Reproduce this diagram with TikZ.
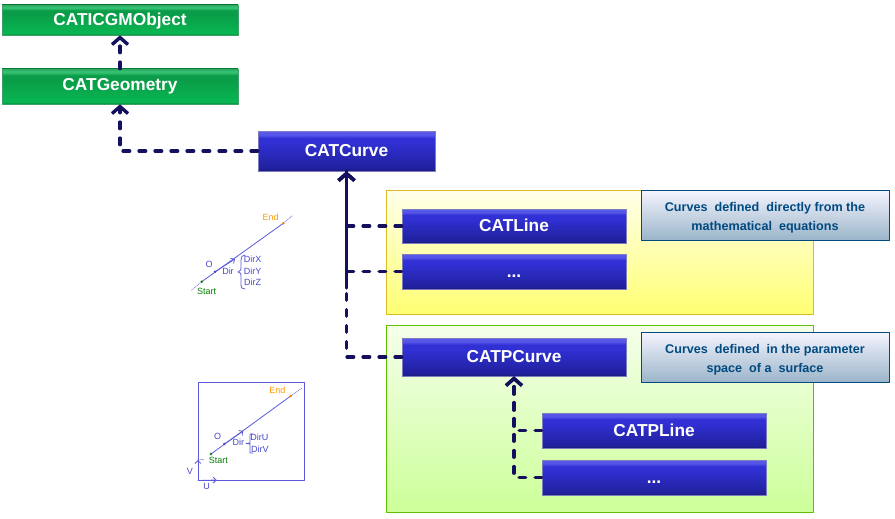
\documentclass[tikz,border=0pt]{standalone}
\usepackage{fontspec}
\setmainfont{Liberation Sans}
\usetikzlibrary{arrows.meta,shadows}
\definecolor{navyline}{HTML}{14105E}
\definecolor{sketchblue}{HTML}{5A5AD8}
\definecolor{sketchtext}{HTML}{4646C8}
\definecolor{noteblue}{HTML}{004A80}
\definecolor{bluetop}{HTML}{6666F0}
\definecolor{blueglow}{HTML}{5555E8}
\definecolor{bluemid}{HTML}{3030D4}
\definecolor{bluelow}{HTML}{20209C}
\definecolor{blueedge}{HTML}{1A1A74}
\definecolor{greentop}{HTML}{0C9A4A}
\definecolor{greenglow}{HTML}{34C070}
\definecolor{greenmid}{HTML}{0A9C48}
\definecolor{greenlow}{HTML}{08B652}
\definecolor{greenedge}{HTML}{0A8A42}
\pgfdeclareverticalshading{bluebevel}{100bp}{color(0bp)=(blueedge);color(25bp)=(blueedge);color(28bp)=(bluelow);color(60bp)=(bluemid);color(66bp)=(bluemid);color(70bp)=(blueglow);color(73bp)=(blueglow);color(75bp)=(bluetop);color(100bp)=(bluetop)}
\pgfdeclareverticalshading{greenbevel}{100bp}{color(0bp)=(greenedge);color(25bp)=(greenedge);color(28bp)=(greenlow);color(60bp)=(greenmid);color(66bp)=(greenmid);color(70bp)=(greenglow);color(73bp)=(greenglow);color(75bp)=(greentop);color(100bp)=(greentop)}
\newcommand{\notestrut}{\rule{0pt}{14pt}}
\tikzset{
	classbar/.style={minimum width=#1, inner sep=0pt, text=white, text height=12pt, text depth=0pt, font=\bfseries\fontsize{17.3}{17}\selectfont, drop shadow={shadow xshift=1pt, shadow yshift=-1pt, opacity=.35}},
	bluebar/.style={classbar=224pt, shading=bluebevel, draw=blue!35!white!75!black, line width=.6pt},
	greenbar/.style={classbar=236pt, shading=greenbevel, draw=greenedge!80!white, line width=.6pt},
	notebox/.style={minimum width=248pt, minimum height=50pt, inner sep=0pt, align=center, text=noteblue, font=\bfseries\fontsize{12.6}{19}\selectfont, top color=blue!4!white, bottom color=blue!45!cyan!30!gray!60!white, draw=noteblue, line width=.8pt, drop shadow={shadow xshift=1pt, shadow yshift=-1pt, opacity=.35}},
	inherit/.style={draw=navyline, line width=3.4pt, dash pattern=on 6.6pt off 9.4pt, ->},
	trunk/.style={draw=navyline, line width=3.4pt},
	panel/.style={line width=.8pt, drop shadow={shadow xshift=1pt, shadow yshift=-1pt, opacity=.3}},
	sketchlabel/.style={font=\fontsize{9}{9}\selectfont, inner sep=0pt, text=sketchtext},
	sketchline/.style={draw=sketchblue, line width=.8pt},
	sketchdots/.style={draw=sketchblue!70!white, line width=.8pt, densely dotted}
}
\begin{document}
\begin{tikzpicture}[x=1pt, y=-1pt, line join=round, line cap=round, >={Straight Barb[length=7pt,width=16pt]}]
	\useasboundingbox (0,0) rectangle (895,519);
	% panels
	\node[panel, minimum width=427pt, minimum height=124pt, top color=yellow!8!white, bottom color=yellow!55!white, draw=yellow!70!orange!85!black] (yellowpanel) at (599.5,252) {};
	\node[panel, minimum width=427pt, minimum height=187pt, top color=green!50!yellow!8!white, bottom color=green!50!yellow!40!white, draw=green!50!yellow!75!black] (greenpanel) at (599.5,418.5) {};
	% classes
	\node[greenbar, minimum height=30pt] (cgmobject) at (120,20) {CATICGMObject};
	\node[greenbar, minimum height=35pt, text depth=4pt] (geometry) at (120,86.5) {CATGeometry};
	\node[bluebar, minimum width=177pt, minimum height=40pt] (curve) at (346.5,151) {CATCurve};
	\node[bluebar, minimum height=34pt, text depth=2pt] (line) at (514,226) {CATLine};
	\node[bluebar, minimum height=35pt] (linedots) at (514,271.5) {...};
	\node[bluebar, minimum height=38pt, text depth=2pt] (pcurve) at (514,357) {CATPCurve};
	\node[bluebar, minimum height=35pt] (pline) at (654,430.5) {CATPLine};
	\node[bluebar, minimum height=35pt] (plinedots) at (654,477.5) {...};
	% notes
	\node[notebox] (linenote) at (765,215) {\notestrut Curves\ \ defined\ \ directly from the\\mathematical\ \ equations};
	\node[notebox] (pcurvenote) at (765,357) {\notestrut Curves\ \ defined\ \ in the parameter\\space\ \ of a\ \ surface};
	% links
	\coordinate (trunkend) at (curve.south |- 0,288);
	\draw[inherit] (geometry.north) -- (cgmobject.south);
	\draw[inherit] (curve.west) -| (geometry.south);
	\draw[trunk] (trunkend) -- (curve.south);
	\draw[inherit] (line.west) -| (curve.south);
	\draw[inherit] (linedots.west) -| (curve.south);
	\draw[inherit] (pcurve.west) -| (curve.south);
	\draw[inherit] (pline.west) -| (pcurve.south);
	\draw[inherit] (plinedots.west) -| (pcurve.south);
	% sketch of the line
	\coordinate (sstart) at (201.7,281.7);
	\coordinate (send) at (283.3,223.3);
	\coordinate (sorigin) at (215,271.7);
	\coordinate (sdir) at (235,259);
	\draw[sketchline] (sstart) -- (send);
	\draw[sketchdots] (sstart) -- (191.7,290);
	\draw[sketchdots] (send) -- (292,216);
	\draw[sketchline, -{Straight Barb[length=3pt,width=6pt]}] (sorigin) -- (sdir);
	\fill[green!50!black] (sstart) circle (1.4pt);
	\fill[orange] (send) circle (1.4pt);
	\fill[sketchtext] (sorigin) circle (1.4pt);
	\node[sketchlabel, text=green!50!black] (sstartlabel) at (206.7,291.7) {Start};
	\node[sketchlabel, text=orange!80!yellow] (sendlabel) at (270.7,217.3) {End};
	\node[sketchlabel] (soriginlabel) at (209,264) {O};
	\node[sketchlabel] (sdirlabel) at (228,271.7) {Dir};
	\node[sketchlabel] (sdirx) at (252.7,259.3) {DirX};
	\node[sketchlabel] (sdiry) at (252.7,271) {DirY};
	\node[sketchlabel] (sdirz) at (252.7,282.7) {DirZ};
	\draw[sketchline] (245,255) .. controls (242,255) and (241,257) .. (241,260) -- (241,268) .. controls (241,270) .. (238,272) .. controls (241,273) .. (241,276) -- (241,284) .. controls (241,288) and (242,289) .. (245,289);
	% sketch of the parameter space
	\node[draw=sketchblue, line width=.9pt, minimum width=105.7pt, minimum height=97.7pt, inner sep=0pt] (space) at (251.2,431.2) {};
	\coordinate (pstart) at (211,454);
	\coordinate (pend) at (290.7,396);
	\coordinate (porigin) at (224.3,444);
	\coordinate (pdir) at (243.3,431);
	\coordinate (vtip) at (space.south west |- 0,460);
	\coordinate (utip) at (216.7,480);
	\draw[sketchline] (pstart) -- (pend);
	\draw[sketchdots] (pend) -- (302,388);
	\draw[sketchdots] (vtip) -- (203.5,459.5);
	\draw[sketchline, -{Straight Barb[length=3pt,width=6pt]}] (porigin) -- (pdir);
	\draw[sketchline, -{Straight Barb[length=3pt,width=6pt]}] (space.south west) -- (vtip);
	\draw[sketchline, -{Straight Barb[length=3pt,width=6pt]}] (space.south west) -- (utip);
	\fill[green!50!black] (pstart) circle (1.4pt);
	\fill[orange] (pend) circle (1.4pt);
	\fill[sketchtext] (porigin) circle (1.4pt);
	\node[sketchlabel, text=green!50!black] (pstartlabel) at (218.3,460.7) {Start};
	\node[sketchlabel, text=orange!80!yellow] (pendlabel) at (277.3,390) {End};
	\node[sketchlabel] (poriginlabel) at (217.7,436.7) {O};
	\node[sketchlabel] (pdirlabel) at (238.3,442.7) {Dir};
	\node[sketchlabel] (pdiru) at (259.3,437.7) {DirU};
	\node[sketchlabel] (pdirv) at (259.8,449.3) {DirV};
	\node[sketchlabel] (pv) at (190,471.7) {V};
	\node[sketchlabel] (pu) at (206.7,486) {U};
	\draw[sketchline] (253,434) -- (250,434) -- (250,443) -- (246,443.5) -- (250,444) -- (250,453) -- (253,453);
\end{tikzpicture}
\end{document}
